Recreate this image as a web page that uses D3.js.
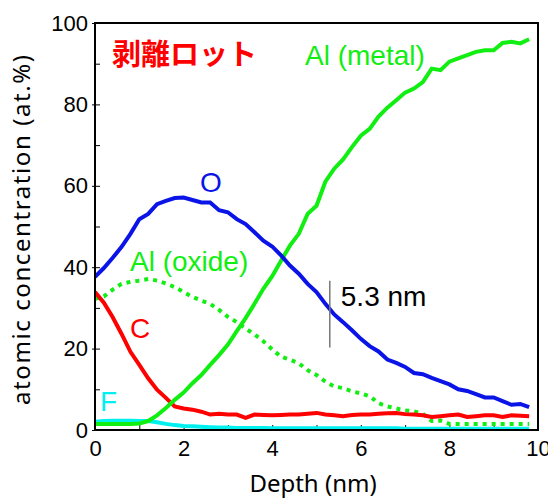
<!DOCTYPE html>
<html><head><meta charset="utf-8">
<script src="https://cdn.jsdelivr.net/npm/d3@7"></script>
<style>body{margin:0;background:#fff;} svg{display:block;}</style>
</head><body>
<script>
const depth = [0,0.2,0.4,0.6,0.8,1.0,1.2,1.4,1.6,1.8,2.0,2.2,2.4,2.6,2.8,3.0,3.2,3.4,3.6,3.8,4.0,4.2,4.4,4.6,4.8,5.0,5.2,5.4,5.6,5.8,6.0,6.2,6.4,6.6,6.8,7.0,7.2,7.4,7.6,7.8,8.0,8.2,8.4,8.6,8.8,9.0,9.2,9.4,9.6,9.8];
const oxygen = [37.6,39.8,42.3,45.0,48.2,51.8,53.1,55.5,56.3,57.0,57.1,56.5,55.9,55.9,54.0,53.5,51.8,50.6,48.6,46.5,45.1,42.9,40.4,38.4,35.9,33.9,31.0,28.4,26.5,24.5,22.4,20.6,19.3,17.3,16.5,15.5,14.0,13.7,12.8,12.0,11.2,10.0,9.6,8.8,8.0,8.0,7.1,6.2,6.4,5.6];
const alMetal = [1.5,1.5,1.5,1.5,1.5,1.6,2.2,3.6,5.4,7.4,9.2,11.5,13.5,16.0,18.4,21.0,24.3,27.5,31.0,34.7,37.8,41.6,45.3,48.2,53.1,55.1,61.0,64.2,66.5,69.5,72.3,74.0,77.0,79.2,81.0,82.9,83.9,85.5,88.8,88.4,90.5,91.3,92.1,92.9,93.3,93.3,95.1,95.4,95.0,96.0];
const alOxide = [32.2,32.8,34.5,35.9,36.4,36.7,37.1,36.7,36.0,35.1,33.9,32.7,31.8,31.0,29.5,27.8,26.5,24.9,23.5,21.8,19.8,18.0,17.3,16.4,14.7,13.5,11.9,10.7,10.3,9.5,9.0,8.3,6.6,5.8,5.3,4.8,4.6,4.0,2.2,2.3,1.5,1.5,1.5,1.5,1.5,1.5,1.5,1.5,1.5,1.5];
const carbon = [33.9,31.3,27.7,23.6,19.2,16.0,12.7,9.9,7.9,5.8,5.3,5.0,4.5,3.8,4.0,3.8,3.8,3.0,3.8,3.7,3.6,3.7,3.8,3.8,4.0,4.2,3.8,3.6,3.4,3.7,3.8,3.8,4.0,4.1,4.2,3.9,3.8,3.6,3.2,3.4,3.6,3.8,3.2,3.4,3.6,3.6,3.2,3.6,3.5,3.4];
const fluorine = [2.0,2.2,2.3,2.3,2.3,2.2,2.2,1.9,1.5,1.2,1.0,0.9,0.8,0.7,0.6,0.6,0.5,0.5,0.5,0.5,0.4,0.4,0.4,0.4,0.4,0.4,0.4,0.4,0.4,0.4,0.4,0.4,0.4,0.4,0.4,0.3,0.3,0.3,0.3,0.3,0.3,0.3,0.3,0.3,0.3,0.3,0.3,0.3,0.3,0.3];
const xTicks = [0,2,4,6,8,10];
const yTicks = [0,20,40,60,80,100];
const seriesNames = ["O","Al (metal)","Al (oxide)","C","F"];
const markerDepth = 5.3;
const markerRange = [20.3, 36.7];

const W = 548, H = 502;
const m = {left: 95, right: 10, top: 23, bottom: 72};
const svg = d3.select("body").append("svg").attr("width", W).attr("height", H);
const x = d3.scaleLinear().domain([0,10]).range([m.left, W - m.right]);
const y = d3.scaleLinear().domain([0,100]).range([H - m.bottom, m.top]);
const tickFont = "'Liberation Sans', Arial, sans-serif";

// minor ticks (inward)
svg.append("g").attr("transform", `translate(0,${y(0)})`)
  .call(d3.axisTop(x).tickValues(d3.range(0,11,1)).tickSize(5).tickFormat(""))
  .call(g => g.select(".domain").remove())
  .selectAll("line").attr("stroke","#000").attr("stroke-width",1);
svg.append("g").attr("transform", `translate(${x(0)},0)`)
  .call(d3.axisRight(y).tickValues(d3.range(0,101,10)).tickSize(5).tickFormat(""))
  .call(g => g.select(".domain").remove())
  .selectAll("line").attr("stroke","#000").attr("stroke-width",1);

// tick labels
const xa = svg.append("g").attr("transform", `translate(0,${y(0)})`)
  .call(d3.axisBottom(x).tickValues(xTicks).tickSize(0).tickPadding(10).tickFormat(d3.format("d")));
xa.select(".domain").remove();
xa.selectAll("text").attr("font-family", tickFont).attr("font-size", 22).attr("fill","#000");
const ya = svg.append("g").attr("transform", `translate(${x(0)},0)`)
  .call(d3.axisLeft(y).tickValues(yTicks).tickSize(3).tickPadding(4).tickFormat(d3.format("d")));
ya.select(".domain").remove();
ya.selectAll("line").attr("stroke","#000");
ya.selectAll("text").attr("font-family", tickFont).attr("font-size", 22).attr("fill","#000");

// data lines
const line = vals => d3.line().x((d,i) => x(depth[i])).y(d => y(d))(vals);
const clipId = "plotclip";
svg.append("clipPath").attr("id", clipId).append("rect")
  .attr("x", x(0)).attr("y", y(100)).attr("width", x(10)-x(0)).attr("height", y(0)-y(100));
const plot = svg.append("g").attr("clip-path", `url(#${clipId})`);
const lw = 4;
plot.append("path").attr("d", line(fluorine)).attr("fill","none").attr("stroke","#00f0f0").attr("stroke-width",lw);
plot.append("path").attr("d", line(alOxide)).attr("fill","none").attr("stroke","#11ee11").attr("stroke-width",lw).attr("stroke-dasharray","4,5");
plot.append("path").attr("d", line(carbon)).attr("fill","none").attr("stroke","#ff0000").attr("stroke-width",lw);
plot.append("path").attr("d", line(alMetal)).attr("fill","none").attr("stroke","#11ee11").attr("stroke-width",lw);
plot.append("path").attr("d", line(oxygen)).attr("fill","none").attr("stroke","#0a14e6").attr("stroke-width",lw);

// frame
svg.append("rect").attr("x", x(0)).attr("y", y(100)).attr("width", x(10)-x(0)).attr("height", y(0)-y(100))
  .attr("fill","none").attr("stroke","#000").attr("stroke-width",2);

// marker line
svg.append("line").attr("x1", x(markerDepth)).attr("x2", x(markerDepth))
  .attr("y1", y(markerRange[0])).attr("y2", y(markerRange[1])).attr("stroke","#777").attr("stroke-width",1.5);
svg.append("text").attr("x", x(markerDepth)+11).attr("y", y(markerRange[1])+25)
  .attr("font-family", tickFont).attr("font-size", 28).attr("fill","#000").text("5.3 nm");

// series labels
const lab = (t, px, py, c, size) => svg.append("text").attr("x", px).attr("y", py)
  .attr("font-family", tickFont).attr("font-size", size).attr("fill", c).text(t);
lab(seriesNames[0], 200, 192, "#0a14e6", 28);
lab(seriesNames[1], 305, 65, "#11ee11", 28);
lab(seriesNames[2], 130, 271, "#11ee11", 28);
lab(seriesNames[3], 130, 338, "#ff0000", 28);
lab(seriesNames[4], 100, 411, "#00f0f0", 28);

svg.append("text").attr("x", 112).attr("y", 65)
  .attr("font-family", "'Noto Sans CJK JP', sans-serif").attr("font-weight", "bold")
  .attr("font-size", 29).attr("fill", "#ff0000").text("剥離ロット");

// axis titles
svg.append("text").attr("x", 313).attr("y", 492).attr("text-anchor","middle")
  .attr("font-family", "'Noto Sans', sans-serif").attr("font-size", 24).attr("fill","#000")
  .text("Depth (nm)");
svg.append("text").attr("transform", `translate(30,230) rotate(-90)`)
  .attr("text-anchor","middle")
  .attr("font-family", "'Noto Sans', sans-serif").attr("font-size", 24).attr("fill","#000")
  .attr("textLength", 350).attr("lengthAdjust", "spacing")
  .text("atomic concentration (at.%)");
</script>
</body></html>
